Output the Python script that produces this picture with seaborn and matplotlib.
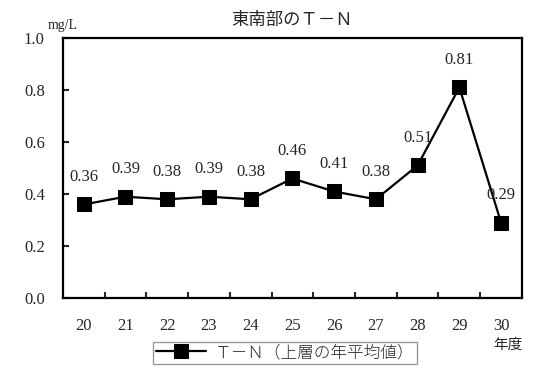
import numpy as np
import pandas as pd
import matplotlib
matplotlib.use("Agg")
import matplotlib.pyplot as plt
import seaborn as sns

years = ["20", "21", "22", "23", "24", "25", "26", "27", "28", "29", "30"]
tn = [0.36, 0.39, 0.38, 0.39, 0.38, 0.46, 0.41, 0.38, 0.51, 0.81, 0.29]
series_name = "Ｔ－Ｎ（上層の年平均値）"

sns.set_style("white")
plt.rcParams["font.family"] = ["Liberation Serif", "Noto Sans CJK JP", "DejaVu Sans"]

df = pd.DataFrame({"pos": np.arange(len(years)), "val": tn})

fig = plt.figure(figsize=(5.37, 3.76), dpi=100)
ax = fig.add_axes([0.117, 0.207, 0.855, 0.692])

sns.lineplot(data=df, x="pos", y="val", color="black", linewidth=1.6,
             marker="s", markersize=10, markeredgecolor="black", ax=ax,
             label=series_name)

# data labels above points
for i, v in enumerate(tn):
    ax.annotate(f"{v:.2f}", (i, v), xytext=(0, 20), textcoords="offset points",
                ha="center", va="center", fontsize=12, family="Liberation Serif")

ax.set_xlim(-0.5, len(years) - 0.5)
ax.set_ylim(0, 1.0)
ax.set_xticks(np.arange(len(years)))
ax.set_xticklabels(years)
ax.set_xticks(np.arange(len(years) - 1) + 0.5, minor=True)
ax.tick_params(axis="x", which="major", length=0, pad=14, labelsize=12)
ax.tick_params(axis="x", which="minor", direction="in", length=4, width=1.5, bottom=True)
ax.set_yticks([0, 0.2, 0.4, 0.6, 0.8, 1.0])
ax.set_yticklabels(["0.0", "0.2", "0.4", "0.6", "0.8", "1.0"])
ax.tick_params(axis="y", direction="in", length=4, width=1.5, left=True, pad=13, labelsize=12)
ax.set_xlabel("")
ax.set_ylabel("")

for s in ax.spines.values():
    s.set_color("black")
    s.set_linewidth(1.6)

ax.set_title("東南部のＴ－Ｎ", fontsize=12.5, family=["Noto Sans CJK JP"], pad=9)
fig.text(0.088, 0.931, "mg/L", fontsize=10, family="Liberation Serif", va="center")
fig.text(0.946, 0.082, "年度", fontsize=10.5, family=["Noto Sans CJK JP"], ha="center", va="center")

leg = ax.legend(loc="center", bbox_to_anchor=(0.531, 0.061), bbox_transform=fig.transFigure,
                frameon=True, fancybox=False, edgecolor="#808080", fontsize=12,
                handlelength=3.0, borderpad=0.2, handletextpad=0.5,
                borderaxespad=0)
leg.get_frame().set_linewidth(1.0)
for t in leg.get_texts():
    t.set_family(["Liberation Serif", "Noto Sans CJK JP"])
    t.set_fontweight("light")

fig.savefig("out.png", dpi=100)
